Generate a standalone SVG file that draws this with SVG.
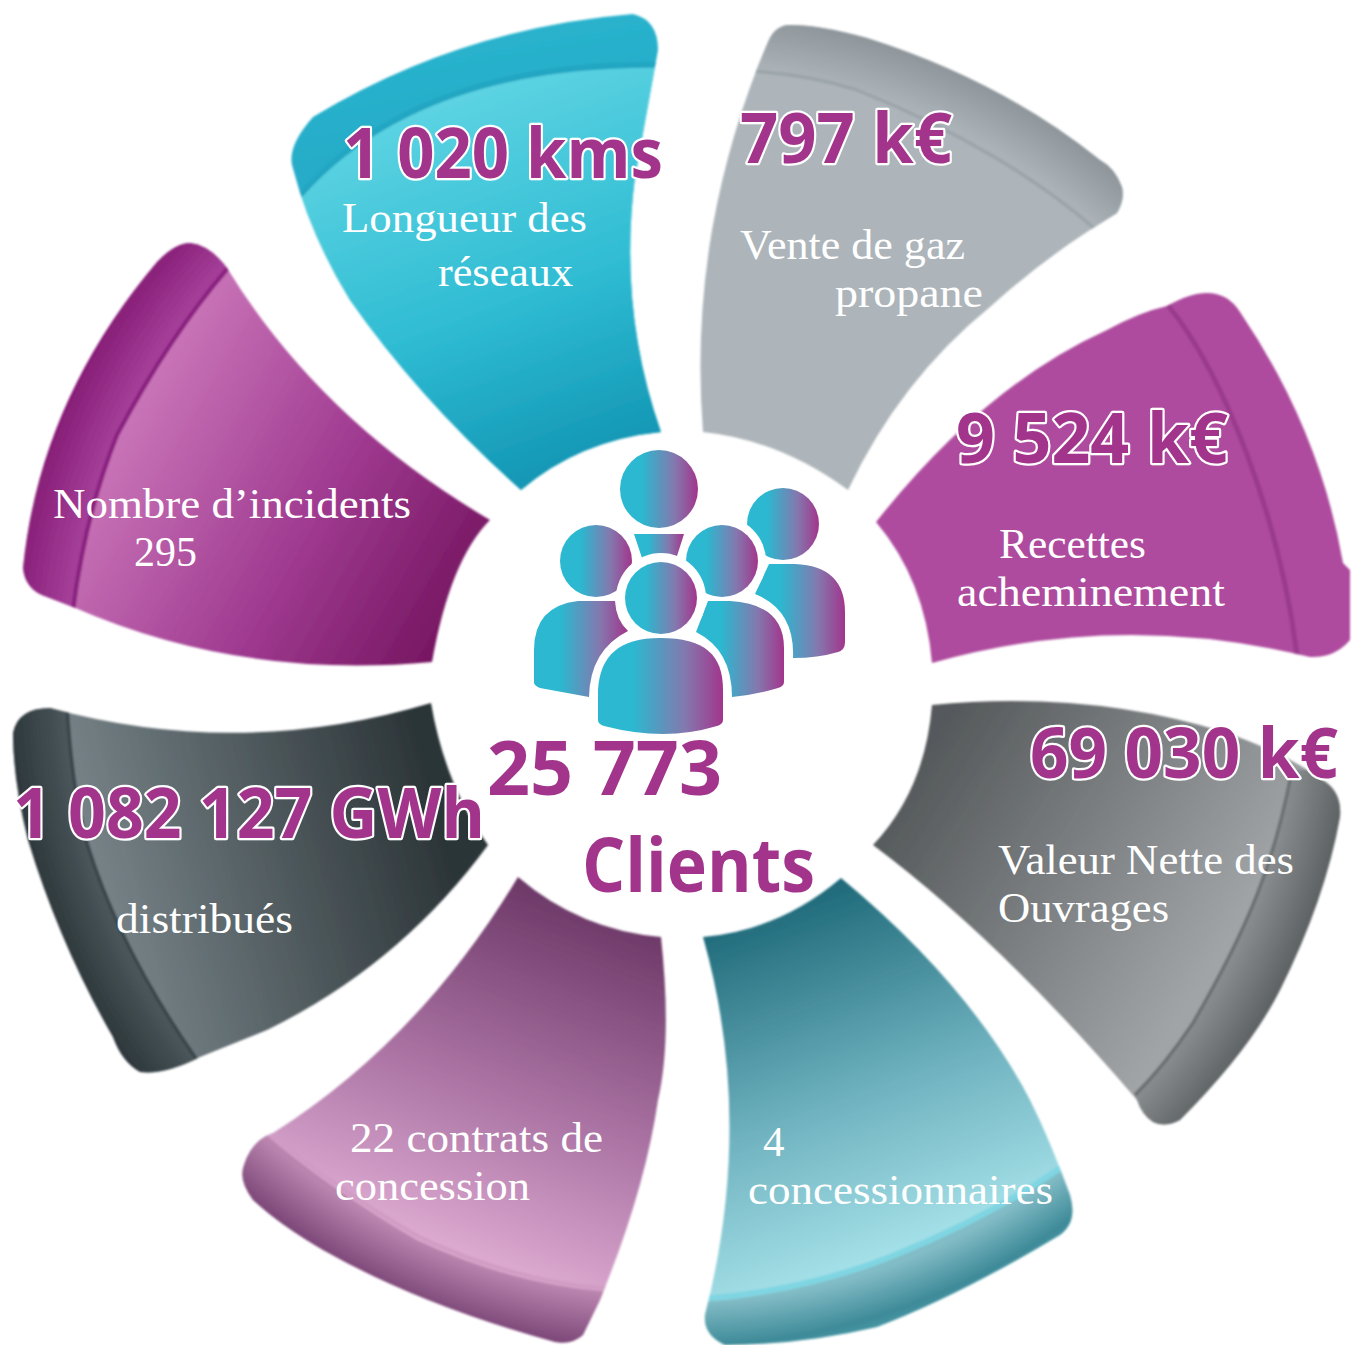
<svg xmlns="http://www.w3.org/2000/svg" width="1353" height="1345" viewBox="0 0 1353 1345">
<style>
.num{font-family:"Open Sans","Noto Sans",sans-serif;font-weight:700;font-size:70px;fill:#a2358b;stroke:#fff;stroke-width:4.5px;paint-order:stroke;stroke-linejoin:round}
.big{font-family:"Open Sans","Noto Sans",sans-serif;font-weight:700;font-size:76px;fill:#a2358b}
.lab{font-family:"Liberation Serif",serif;font-size:43px;fill:#fff}
</style>
<defs>
<filter id="soft" x="-5%" y="-5%" width="110%" height="110%"><feGaussianBlur stdDeviation="0.8"/></filter>
<linearGradient id="gCy" gradientUnits="userSpaceOnUse" x1="420" y1="100" x2="560" y2="480"><stop offset="0" stop-color="#5ed4e3"/><stop offset=".55" stop-color="#2fbcd3"/><stop offset="1" stop-color="#1295b3"/></linearGradient>
<linearGradient id="gCyB" gradientUnits="userSpaceOnUse" x1="470" y1="20" x2="490" y2="130"><stop offset="0" stop-color="#2ab4ce"/><stop offset="1" stop-color="#26acc8"/></linearGradient>
<radialGradient id="gGrB" gradientUnits="userSpaceOnUse" cx="680" cy="680" r="680"><stop offset=".905" stop-color="#abb3b8"/><stop offset=".985" stop-color="#8d959a"/></radialGradient>
<linearGradient id="gGrR" gradientUnits="userSpaceOnUse" x1="920" y1="760" x2="1220" y2="950"><stop offset="0" stop-color="#55595b"/><stop offset="1" stop-color="#a0a4a6"/></linearGradient>
<radialGradient id="gGrRB" gradientUnits="userSpaceOnUse" cx="680" cy="680" r="680"><stop offset=".905" stop-color="#8a8e90"/><stop offset=".99" stop-color="#5e6365"/></radialGradient>
<linearGradient id="gTe" gradientUnits="userSpaceOnUse" x1="790" y1="900" x2="930" y2="1290"><stop offset="0" stop-color="#1f6a7a"/><stop offset=".5" stop-color="#6fb2bf"/><stop offset="1" stop-color="#b4eef4"/></linearGradient>
<radialGradient id="gTeB" gradientUnits="userSpaceOnUse" cx="680" cy="680" r="680"><stop offset=".915" stop-color="#82bcc6"/><stop offset=".98" stop-color="#3e8a98"/><stop offset="1" stop-color="#4a9aa8"/></radialGradient>
<linearGradient id="gMa" gradientUnits="userSpaceOnUse" x1="590" y1="900" x2="450" y2="1270"><stop offset="0" stop-color="#6b3766"/><stop offset=".55" stop-color="#ac75a5"/><stop offset="1" stop-color="#e2b0d6"/></linearGradient>
<radialGradient id="gMaB" gradientUnits="userSpaceOnUse" cx="680" cy="680" r="680"><stop offset=".91" stop-color="#b984ae"/><stop offset=".99" stop-color="#7c4878"/></radialGradient>
<linearGradient id="gDk" gradientUnits="userSpaceOnUse" x1="90" y1="860" x2="430" y2="770"><stop offset="0" stop-color="#778388"/><stop offset="1" stop-color="#2b3437"/></linearGradient>
<radialGradient id="gDkB" gradientUnits="userSpaceOnUse" cx="680" cy="680" r="680"><stop offset=".9" stop-color="#4c585c"/><stop offset=".985" stop-color="#2e383c"/></radialGradient>
<linearGradient id="gPu" gradientUnits="userSpaceOnUse" x1="130" y1="420" x2="460" y2="610"><stop offset="0" stop-color="#c873b7"/><stop offset=".55" stop-color="#9f3a90"/><stop offset="1" stop-color="#771762"/></linearGradient>
<radialGradient id="gPuB" gradientUnits="userSpaceOnUse" cx="680" cy="680" r="680"><stop offset=".9" stop-color="#a6409a"/><stop offset=".985" stop-color="#881f78"/></radialGradient>
<linearGradient id="gIc" x1="0" y1="0" x2="1" y2="0"><stop offset="0" stop-color="#2bb8d0"/><stop offset=".28" stop-color="#2bb8d0"/><stop offset=".7" stop-color="#8478ae"/><stop offset="1" stop-color="#a2358b"/></linearGradient>
<path id="pCy" d="M633 14Q658 20 658 50L635 177Q618 310 661 432Q580 440 521 490Q420 400 350 300Q310 235 292 165Q288 145 313 117Q460 28 633 14Z"/>
<path id="pGr" d="M790 25Q775 25 768 42Q730 130 712 230Q695 330 703 432Q780 440 848 490Q900 380 990 307Q1040 262 1090 230L1117 213Q1125 200 1122 187Q1115 168 1100 160Q1000 80 867 38Q820 25 790 25Z"/>
<path id="pPu" d="M876 522Q985 385 1107 330Q1140 312 1167 306Q1190 293 1207 293Q1228 293 1240 312Q1320 430 1343 563L1350 570V640Q1335 658 1310 657Q1120 610 932 663Q925 580 876 522Z"/>
<path id="pGd" d="M932 705Q1090 690 1227 733Q1290 755 1327 783Q1342 795 1340 817Q1325 900 1280 990Q1250 1050 1180 1120Q1165 1128 1153 1122Q1142 1115 1137 1100Q1000 940 873 845Q925 790 932 705Z"/>
<path id="pTe" d="M841 878Q970 985 1030 1100Q1050 1140 1070 1195Q1078 1222 1060 1235Q960 1295 877 1327Q800 1345 725 1345Q703 1335 705 1315Q755 1120 703 937Q780 930 841 878Z"/>
<path id="pMa" d="M518 877Q580 930 661 937Q672 1040 658 1100Q645 1190 600 1300L583 1335Q572 1345 555 1342Q420 1305 323 1250Q280 1225 253 1200Q238 1180 244 1165Q252 1140 273 1133Q420 1040 518 877Z"/>
<path id="pDk" d="M431 703Q445 785 488 845Q400 965 267 1030L200 1057Q165 1075 140 1072Q122 1062 113 1037Q60 945 28 840Q13 780 13 733Q18 708 50 708Q240 760 431 703Z"/>
<path id="pMg" d="M490 520Q450 560 432 662Q240 680 73 607L47 597Q25 590 23 568Q40 400 157 262Q175 243 190 243Q210 245 227 268Q320 420 490 520Z"/>
<clipPath id="cCy"><use href="#pCy"/></clipPath>
<clipPath id="cGr"><use href="#pGr"/></clipPath>
<clipPath id="cPu"><use href="#pPu"/></clipPath>
<clipPath id="cGd"><use href="#pGd"/></clipPath>
<clipPath id="cTe"><use href="#pTe"/></clipPath>
<clipPath id="cMa"><use href="#pMa"/></clipPath>
<clipPath id="cDk"><use href="#pDk"/></clipPath>
<clipPath id="cMg"><use href="#pMg"/></clipPath>
</defs>
<g id="connectors"/>
<g id="node-reseaux">
<g filter="url(#soft)">
<use href="#pCy" fill="url(#gCyB)"/>
<path clip-path="url(#cCy)" d="M300 198Q420 60 670 66V500H300Z" fill="url(#gCy)"/>
<path clip-path="url(#cCy)" d="M300 195Q420 60 670 65" fill="none" stroke="#23a6c2" stroke-width="6"/>
</g>
<text class="num" x="343" y="178" textLength="320" lengthAdjust="spacingAndGlyphs">1 020 kms</text>
<text class="lab" x="342" y="232" textLength="245" lengthAdjust="spacingAndGlyphs">Longueur des</text>
<text class="lab" x="438" y="286" textLength="135" lengthAdjust="spacingAndGlyphs">réseaux</text>
</g>
<g id="node-gaz">
<g filter="url(#soft)">
<use href="#pGr" fill="#adb5ba"/>
<path clip-path="url(#cGr)" d="M750 20H1135V240L1093 227C1040 180 957 130 857 90Q810 75 750 72Z" fill="url(#gGrB)"/>
<path clip-path="url(#cGr)" d="M752 71Q810 75 857 90C957 130 1040 180 1096 230" fill="none" stroke="#9ba4a9" stroke-width="3.5"/>
</g>
<text class="num" x="740" y="163" textLength="212" lengthAdjust="spacingAndGlyphs">797 k€</text>
<text class="lab" x="740" y="259" textLength="225" lengthAdjust="spacingAndGlyphs">Vente de gaz</text>
<text class="lab" x="835" y="307" textLength="148" lengthAdjust="spacingAndGlyphs">propane</text>
</g>
<g id="node-recettes">
<g filter="url(#soft)">
<use href="#pPu" fill="#ae4c9e"/>
<path clip-path="url(#cPu)" d="M1167 304C1225 375 1280 520 1297 655" fill="none" stroke="#9a3a8d" stroke-width="5"/>
</g>
<text class="num" x="956" y="463" textLength="272" lengthAdjust="spacingAndGlyphs">9 524 k€</text>
<text class="lab" x="999" y="558" textLength="147" lengthAdjust="spacingAndGlyphs">Recettes</text>
<text class="lab" x="957" y="606" textLength="268" lengthAdjust="spacingAndGlyphs">acheminement</text>
</g>
<g id="node-vno">
<g filter="url(#soft)">
<use href="#pGd" fill="url(#gGrR)"/>
<path clip-path="url(#cGd)" d="M1292 770C1275 860 1250 925 1193 1023Q1165 1065 1135 1095L1150 1140H1353V770Z" fill="url(#gGrRB)"/>
<path clip-path="url(#cGd)" d="M1292 770C1275 860 1250 925 1193 1023Q1165 1065 1135 1095" fill="none" stroke="#6a6f71" stroke-width="3.5"/>
</g>
<text class="num" x="1030" y="778" textLength="308" lengthAdjust="spacingAndGlyphs">69 030 k€</text>
<text class="lab" x="998" y="874" textLength="296" lengthAdjust="spacingAndGlyphs">Valeur Nette des</text>
<text class="lab" x="998" y="922" textLength="171" lengthAdjust="spacingAndGlyphs">Ouvrages</text>
</g>
<g id="node-concessionnaires">
<g filter="url(#soft)">
<use href="#pTe" fill="url(#gTe)"/>
<path clip-path="url(#cTe)" d="M700 1302Q800 1295 890 1260Q990 1220 1062 1170L1085 1170V1350H700Z" fill="url(#gTeB)"/>
<path clip-path="url(#cTe)" d="M700 1299Q800 1292 890 1257Q990 1217 1062 1167" fill="none" stroke="#7fd5e2" stroke-width="6"/>
</g>
<text class="lab" x="763" y="1156">4</text>
<text class="lab" x="748" y="1204" textLength="305" lengthAdjust="spacingAndGlyphs">concessionnaires</text>
</g>
<g id="node-contrats">
<g filter="url(#soft)">
<use href="#pMa" fill="url(#gMa)"/>
<path clip-path="url(#cMa)" d="M260 1130Q330 1190 417 1240Q513 1285 610 1292V1350H230V1130Z" fill="url(#gMaB)"/>
<path clip-path="url(#cMa)" d="M262 1127Q332 1187 419 1237Q515 1282 610 1289" fill="none" stroke="#d09cc4" stroke-width="4"/>
</g>
<text class="lab" x="350" y="1152" textLength="253" lengthAdjust="spacingAndGlyphs">22 contrats de</text>
<text class="lab" x="335" y="1200" textLength="195" lengthAdjust="spacingAndGlyphs">concession</text>
</g>
<g id="node-gwh">
<g filter="url(#soft)">
<use href="#pDk" fill="url(#gDk)"/>
<path clip-path="url(#cDk)" d="M0 700H67Q72 790 87 843Q120 950 197 1060V1090H0Z" fill="url(#gDkB)"/>
<path clip-path="url(#cDk)" d="M67 705Q72 790 87 843Q120 950 197 1060" fill="none" stroke="#3a454a" stroke-width="3.5"/>
</g>
<text class="num" x="13" y="838" textLength="472" lengthAdjust="spacingAndGlyphs">1 082 127 GWh</text>
<text class="lab" x="116" y="933" textLength="177" lengthAdjust="spacingAndGlyphs">distribués</text>
</g>
<g id="node-incidents">
<g filter="url(#soft)">
<use href="#pMg" fill="url(#gPu)"/>
<path clip-path="url(#cMg)" d="M228 268Q170 335 117 435Q85 515 73 610H0V230H228Z" fill="url(#gPuB)"/>
<path clip-path="url(#cMg)" d="M228 268Q170 335 117 435Q85 515 73 610" fill="none" stroke="#8a2080" stroke-width="4.5"/>
</g>
<text class="lab" x="53" y="518" textLength="358" lengthAdjust="spacingAndGlyphs">Nombre d’incidents</text>
<text class="lab" x="134" y="566" textLength="63" lengthAdjust="spacingAndGlyphs">295</text>
</g>
<g id="node-clients">
<circle cx="783" cy="524" r="36" fill="url(#gIc)"/>
<path fill="url(#gIc)" d="M769 564H795Q845 566 845 612V642Q845 650 838 652Q818 658 793 658Q795 610 755 594Z"/>
<circle cx="722" cy="561" r="44" fill="#fff"/>
<circle cx="659" cy="489" r="39" fill="url(#gIc)"/>
<path fill="url(#gIc)" d="M634 534H684L677 556Q660 552 642 558Z"/>
<path fill="url(#gIc)" d="M615 601H578Q534 606 534 650V683Q535 686 540 688L589 697Q590 650 628 631Q616 620 615 601Z"/>
<path fill="url(#gIc)" d="M708 601H730Q784 604 784 648V682Q784 686 778 688Q755 695 732 697Q732 650 696 632Z"/>
<circle cx="596" cy="561" r="36" fill="url(#gIc)"/>
<circle cx="722" cy="561" r="36" fill="url(#gIc)"/>
<circle cx="661" cy="598" r="45" fill="#fff"/>
<circle cx="661" cy="598" r="36" fill="url(#gIc)"/>
<path fill="url(#gIc)" d="M660 638C705 638 723 655 723 690V720Q723 724 717 726Q690 734 663 734Q635 734 604 726Q598 724 598 720V690C600 655 620 638 660 638Z"/>
<text class="big" x="487" y="795" textLength="235" lengthAdjust="spacingAndGlyphs">25 773</text>
<text class="big" x="582" y="892" textLength="233" lengthAdjust="spacingAndGlyphs">Clients</text>
</g>
</svg>
